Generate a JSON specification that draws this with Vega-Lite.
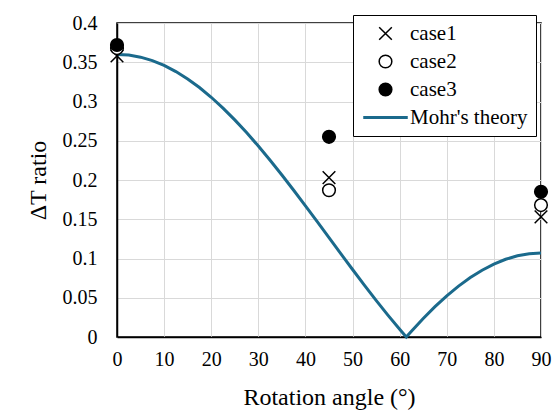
{
  "$schema": "https://vega.github.io/schema/vega-lite/v6.json",
  "autosize": {"type": "none"},
  "width": 424,
  "height": 314,
  "padding": {"left": 117, "top": 23, "right": 11, "bottom": 79},
  "background": "white",
  "config": {
    "font": "'Liberation Serif', 'Times New Roman', 'DejaVu Serif', serif",
    "view": {"stroke": "black", "strokeWidth": 1.5},
    "axis": {
      "labelFont": "'Liberation Serif', 'Times New Roman', 'DejaVu Serif', serif",
      "titleFont": "'Liberation Serif', 'Times New Roman', 'DejaVu Serif', serif",
      "labelFontSize": 20,
      "titleFontSize": 24,
      "labelColor": "black",
      "titleColor": "black",
      "titleFontWeight": "normal",
      "gridColor": "#d9d9d9",
      "domainColor": "black",
      "domainWidth": 1.5,
      "ticks": false,
      "labelOverlap": false,
      "labelFlush": false
    },
    "legend": {
      "labelFont": "'Liberation Serif', 'Times New Roman', 'DejaVu Serif', serif",
      "labelFontSize": 21,
      "labelColor": "black"
    }
  },
  "datasets": {
    "theory": [
      {"angle": 0, "ratio": 0.36},
      {"angle": 2.5, "ratio": 0.3591},
      {"angle": 5, "ratio": 0.3565},
      {"angle": 7.5, "ratio": 0.352},
      {"angle": 10, "ratio": 0.3459},
      {"angle": 12.5, "ratio": 0.3381},
      {"angle": 15, "ratio": 0.3287},
      {"angle": 17.5, "ratio": 0.3178},
      {"angle": 20, "ratio": 0.3054},
      {"angle": 22.5, "ratio": 0.2916},
      {"angle": 25, "ratio": 0.2766},
      {"angle": 27.5, "ratio": 0.2604},
      {"angle": 30, "ratio": 0.2433},
      {"angle": 32.5, "ratio": 0.2252},
      {"angle": 35, "ratio": 0.2064},
      {"angle": 37.5, "ratio": 0.1869},
      {"angle": 40, "ratio": 0.167},
      {"angle": 42.5, "ratio": 0.1469},
      {"angle": 45, "ratio": 0.1265},
      {"angle": 47.5, "ratio": 0.1061},
      {"angle": 50, "ratio": 0.086},
      {"angle": 52.5, "ratio": 0.0661},
      {"angle": 55, "ratio": 0.0466},
      {"angle": 57.5, "ratio": 0.0278},
      {"angle": 60, "ratio": 0.0098},
      {"angle": 61.4, "ratio": 0.0},
      {"angle": 62.5, "ratio": 0.0074},
      {"angle": 65, "ratio": 0.0236},
      {"angle": 67.5, "ratio": 0.0386},
      {"angle": 70, "ratio": 0.0524},
      {"angle": 72.5, "ratio": 0.0648},
      {"angle": 75, "ratio": 0.0757},
      {"angle": 77.5, "ratio": 0.0851},
      {"angle": 80, "ratio": 0.0929},
      {"angle": 82.5, "ratio": 0.099},
      {"angle": 85, "ratio": 0.1035},
      {"angle": 87.5, "ratio": 0.1061},
      {"angle": 90, "ratio": 0.107}
    ],
    "cases": [
      {"angle": 0, "ratio": 0.358, "series": "case1"},
      {"angle": 0, "ratio": 0.368, "series": "case2"},
      {"angle": 0, "ratio": 0.372, "series": "case3"},
      {"angle": 45, "ratio": 0.203, "series": "case1"},
      {"angle": 45, "ratio": 0.187, "series": "case2"},
      {"angle": 45, "ratio": 0.255, "series": "case3"},
      {"angle": 90, "ratio": 0.153, "series": "case1"},
      {"angle": 90, "ratio": 0.168, "series": "case2"},
      {"angle": 90, "ratio": 0.185, "series": "case3"}
    ]
  },
  "encoding": {
    "x": {
      "field": "angle", "type": "quantitative",
      "scale": {"domain": [0, 90], "nice": false},
      "axis": {"values": [0, 10, 20, 30, 40, 50, 60, 70, 80, 90], "title": "Rotation angle (°)", "labelPadding": 12, "titlePadding": 16}
    },
    "y": {
      "field": "ratio", "type": "quantitative",
      "scale": {"domain": [0, 0.4], "nice": false},
      "axis": {"values": [0, 0.05, 0.1, 0.15, 0.2, 0.25, 0.3, 0.35, 0.4], "format": "~g", "title": "ΔT ratio", "labelPadding": 20, "titlePadding": 12}
    }
  },
  "layer": [
    {
      "data": {"name": "theory"},
      "mark": {"type": "line", "color": "#1b6a8c", "strokeWidth": 3}
    },
    {
      "data": {"name": "cases"},
      "mark": {"type": "point", "opacity": 1, "strokeWidth": 1.5, "size": 160},
      "encoding": {
        "shape": {
          "field": "series", "type": "nominal",
          "scale": {"domain": ["case1", "case2", "case3", "Mohr's theory"], "range": ["M-1,-1L1,1M-1,1L1,-1", "circle", "circle", "M-3.4,-0.12H3.4V0.12H-3.4Z"]},
          "legend": {
            "title": null, "orient": "none", "legendX": 236, "legendY": -8,
            "strokeColor": "black", "fillColor": "white", "padding": 8,
            "symbolSize": 160, "symbolStrokeWidth": 1.5, "symbolOffset": 14,
            "labelOffset": 14, "rowPadding": 6
          }
        },
        "fill": {
          "field": "series", "type": "nominal",
          "scale": {"domain": ["case1", "case2", "case3", "Mohr's theory"], "range": ["transparent", "white", "black", "#1b6a8c"]},
          "legend": {
            "title": null, "orient": "none", "legendX": 236, "legendY": -8,
            "strokeColor": "black", "fillColor": "white", "padding": 8,
            "symbolSize": 160, "symbolStrokeWidth": 1.5, "symbolOffset": 14,
            "labelOffset": 14, "rowPadding": 6
          }
        },
        "stroke": {
          "field": "series", "type": "nominal",
          "scale": {"domain": ["case1", "case2", "case3", "Mohr's theory"], "range": ["black", "black", "black", "#1b6a8c"]},
          "legend": {
            "title": null, "orient": "none", "legendX": 236, "legendY": -8,
            "strokeColor": "black", "fillColor": "white", "padding": 8,
            "symbolSize": 160, "symbolStrokeWidth": 1.5, "symbolOffset": 14,
            "labelOffset": 14, "rowPadding": 6
          }
        }
      }
    }
  ]
}
